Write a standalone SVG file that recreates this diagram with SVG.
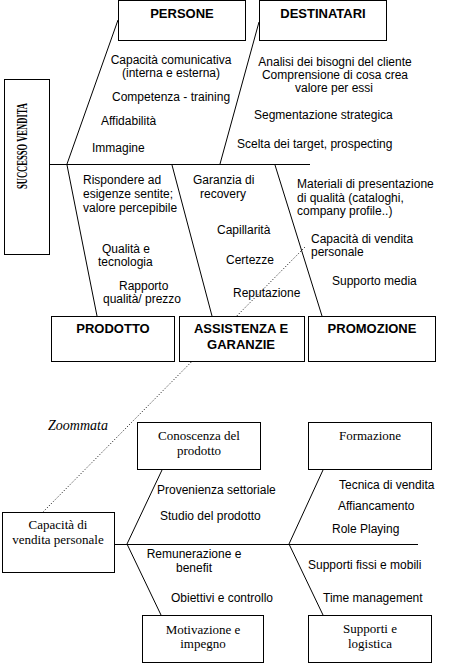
<svg xmlns="http://www.w3.org/2000/svg" width="460" height="664" viewBox="0 0 460 664">
<style>
.box{fill:#fff;stroke:#000;stroke-width:1}
.ln{stroke:#000;stroke-width:1;fill:none}
.dot{stroke:#000;stroke-width:1;fill:none;stroke-dasharray:1 2}
.s{font-family:"Liberation Sans",Arial,sans-serif;font-size:12px;fill:#000}
.b{font-family:"Liberation Sans",Arial,sans-serif;font-size:13px;font-weight:bold;fill:#000;text-anchor:middle}
.r{font-family:"Liberation Serif","Times New Roman",serif;font-size:13px;fill:#000;text-anchor:middle}
.m{text-anchor:middle}
</style>
<rect width="460" height="664" fill="#fff"/>
<g id="connectors">
<line class="ln" x1="50" y1="164.5" x2="310" y2="164.5"/>
<line class="ln" x1="118" y1="20" x2="67" y2="164"/>
<line class="ln" x1="259" y1="22" x2="220" y2="164"/>
<line class="ln" x1="67" y1="165" x2="97" y2="316"/>
<line class="ln" x1="172" y1="165" x2="212" y2="316"/>
<line class="ln" x1="275" y1="165" x2="322" y2="316"/>
<line class="ln" x1="115" y1="544.5" x2="418" y2="544.5"/>
<line class="ln" x1="127" y1="544" x2="162" y2="470"/>
<line class="ln" x1="127" y1="544" x2="161" y2="615"/>
<line class="ln" x1="289" y1="544" x2="323" y2="470"/>
<line class="ln" x1="289" y1="544" x2="323" y2="615"/>
<line class="dot" x1="305" y1="247" x2="43" y2="512"/>
</g>
<g id="successo">
<rect class="box" x="4.5" y="79.5" width="45" height="175"/>
<text transform="translate(26.5,146) rotate(-90)" font-family="'Liberation Serif','Times New Roman',serif" font-size="14" font-weight="bold" text-anchor="middle" textLength="86" lengthAdjust="spacingAndGlyphs">SUCCESSO VENDITA</text>
</g>
<g id="persone">
<rect class="box" x="118.5" y="0.5" width="127" height="40"/>
<text class="b" x="182" y="18">PERSONE</text>
</g>
<g id="destinatari">
<rect class="box" x="259.5" y="0.5" width="127" height="40"/>
<text class="b" x="323" y="18">DESTINATARI</text>
</g>
<g id="prodotto">
<rect class="box" x="51.5" y="316.5" width="123" height="45"/>
<text class="b" x="113" y="333">PRODOTTO</text>
</g>
<g id="assistenza">
<rect class="box" x="179.5" y="316.5" width="125" height="45"/>
<text class="b" x="241" y="333">ASSISTENZA E</text>
<text class="b" x="241" y="349">GARANZIE</text>
</g>
<g id="promozione">
<rect class="box" x="308.5" y="316.5" width="127" height="45"/>
<text class="b" x="372" y="333">PROMOZIONE</text>
</g>
<g id="labels-top">
<text class="s m" x="171" y="64">Capacità comunicativa</text>
<text class="s m" x="171" y="77">(interna e esterna)</text>
<text class="s" x="112" y="101">Competenza - training</text>
<text class="s" x="101" y="125">Affidabilità</text>
<text class="s" x="92" y="152">Immagine</text>
<text class="s m" x="335" y="66">Analisi dei bisogni del cliente</text>
<text class="s m" x="335" y="79">Comprensione di cosa crea</text>
<text class="s m" x="334" y="92">valore per essi</text>
<text class="s" x="254" y="119">Segmentazione strategica</text>
<text class="s" x="237" y="148">Scelta dei target, prospecting</text>
<text class="s" x="83" y="184">Rispondere ad</text>
<text class="s" x="83" y="198">esigenze sentite;</text>
<text class="s" x="83" y="212">valore percepibile</text>
<text class="s" x="102" y="253">Qualità e</text>
<text class="s" x="98" y="266">tecnologia</text>
<text class="s" x="119" y="290">Rapporto</text>
<text class="s" x="103" y="303">qualità/ prezzo</text>
<text class="s" x="193" y="184">Garanzia di</text>
<text class="s" x="200" y="198">recovery</text>
<text class="s" x="217" y="234">Capillarità</text>
<text class="s" x="226" y="264">Certezze</text>
<text class="s" x="233" y="297">Reputazione</text>
<text class="s" x="297" y="188">Materiali di presentazione</text>
<text class="s" x="297" y="202">di qualità (cataloghi,</text>
<text class="s" x="297" y="215">company profile..)</text>
<text class="s" x="311" y="243">Capacità di vendita</text>
<text class="s" x="311" y="256">personale</text>
<text class="s" x="332" y="285">Supporto media</text>
</g>
<text x="48" y="430" font-family="'Liberation Serif','Times New Roman',serif" font-size="14" font-style="italic">Zoommata</text>
<g id="capacita">
<rect class="box" x="2.5" y="512.5" width="112" height="60"/>
<text class="r" x="58" y="529">Capacità di</text>
<text class="r" x="58" y="544">vendita personale</text>
</g>
<g id="conoscenza">
<rect class="box" x="137.5" y="422.5" width="123" height="47"/>
<text class="r" x="199" y="440">Conoscenza del</text>
<text class="r" x="199" y="455">prodotto</text>
</g>
<g id="formazione">
<rect class="box" x="308.5" y="422.5" width="123" height="47"/>
<text class="r" x="370" y="440">Formazione</text>
</g>
<g id="motivazione">
<rect class="box" x="142.5" y="615.5" width="121" height="47"/>
<text class="r" x="203" y="634">Motivazione e</text>
<text class="r" x="203" y="648">impegno</text>
</g>
<g id="supporti">
<rect class="box" x="308.5" y="615.5" width="123" height="47"/>
<text class="r" x="370" y="633">Supporti e</text>
<text class="r" x="370" y="648">logistica</text>
</g>
<g id="labels-bottom">
<text class="s" x="157" y="494">Provenienza settoriale</text>
<text class="s" x="160" y="520">Studio del prodotto</text>
<text class="s m" x="194" y="558">Remunerazione e</text>
<text class="s m" x="194" y="572">benefit</text>
<text class="s" x="171" y="602">Obiettivi e controllo</text>
<text class="s" x="339" y="489">Tecnica di vendita</text>
<text class="s" x="338" y="510">Affiancamento</text>
<text class="s" x="332" y="533">Role Playing</text>
<text class="s" x="308" y="569">Supporti fissi e mobili</text>
<text class="s" x="323" y="602">Time management</text>
</g>
</svg>
